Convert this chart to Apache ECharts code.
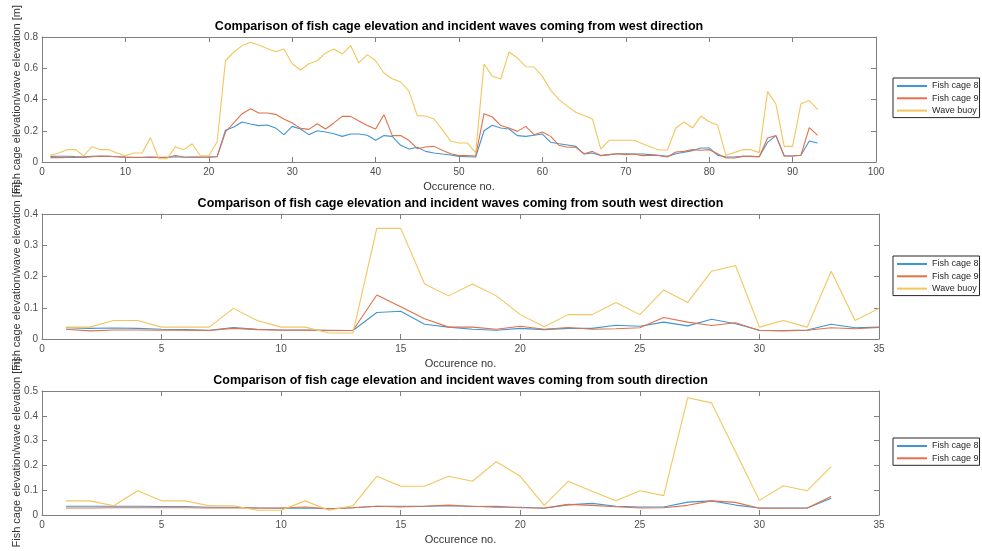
<!DOCTYPE html>
<html>
<head>
<meta charset="utf-8">
<script src="https://cdn.jsdelivr.net/npm/echarts@6.0.0/dist/echarts.min.js"></script>
<style>
  html, body { margin: 0; padding: 0; background: #fff; }
  #chart { width: 982px; height: 551px; }
</style>
</head>
<body>
<div id="chart"></div>
<script>
// ---- West direction (93 occurrences) ----
const westCage8 = [0.036,0.037,0.037,0.035,0.034,0.036,0.037,0.036,0.034,0.031,0.030,0.030,0.031,0.030,0.030,0.034,0.030,0.031,0.031,0.032,0.035,
  0.203,0.224,0.256,0.243,0.233,0.237,0.218,0.175,0.228,0.211,0.175,0.200,0.192,0.181,0.164,0.179,0.179,0.171,0.139,0.169,0.164,0.107,0.083,0.094,0.068,0.058,0.051,0.045,0.036,0.034,0.032,
  0.200,0.235,0.218,0.211,0.169,0.164,0.171,0.179,0.126,0.117,0.109,0.100,0.051,0.058,0.041,0.047,0.053,0.053,0.051,0.051,0.047,0.043,0.036,0.053,0.062,0.073,0.090,0.090,0.043,0.032,0.032,0.036,0.036,0.034,
  0.126,0.169,0.038,0.038,0.043,0.134,0.122];
const westCage9 = [0.028,0.028,0.029,0.029,0.029,0.034,0.038,0.037,0.034,0.031,0.029,0.029,0.030,0.029,0.028,0.042,0.032,0.030,0.030,0.031,0.034,
  0.192,0.250,0.309,0.341,0.314,0.314,0.305,0.275,0.250,0.215,0.209,0.245,0.211,0.250,0.292,0.292,0.262,0.233,0.211,0.303,0.169,0.169,0.139,0.085,0.096,0.100,0.075,0.053,0.041,0.041,0.038,
  0.309,0.288,0.233,0.218,0.196,0.228,0.175,0.192,0.164,0.107,0.094,0.094,0.053,0.068,0.041,0.047,0.053,0.047,0.051,0.041,0.043,0.040,0.032,0.064,0.068,0.079,0.075,0.079,0.053,0.026,0.026,0.036,0.036,0.034,
  0.154,0.169,0.038,0.038,0.043,0.220,0.171];
const westBuoy = [0.043,0.058,0.079,0.079,0.040,0.098,0.079,0.079,0.058,0.040,0.058,0.058,0.156,0.021,0.021,0.098,0.079,0.117,0.040,0.040,0.130,
  0.648,0.704,0.745,0.766,0.749,0.727,0.706,0.723,0.629,0.589,0.629,0.648,0.698,0.723,0.691,0.745,0.634,0.687,0.648,0.570,0.533,0.512,0.454,0.297,0.294,0.275,0.207,0.134,0.122,0.122,0.058,
  0.627,0.550,0.531,0.704,0.666,0.610,0.608,0.548,0.459,0.399,0.356,0.318,0.297,0.275,0.083,0.139,0.139,0.139,0.139,0.117,0.096,0.077,0.077,0.218,0.256,0.218,0.294,0.258,0.237,0.043,0.060,0.079,0.079,0.060,
  0.452,0.371,0.100,0.100,0.373,0.393,0.335];

// ---- South west direction (35 occurrences) ----
const swCage8 = [0.036,0.034,0.035,0.034,0.031,0.030,0.028,0.037,0.031,0.029,0.029,0.028,0.027,0.085,0.089,0.047,0.038,0.031,0.028,0.034,0.030,0.034,0.034,0.044,0.041,0.054,0.042,0.063,0.049,0.028,0.027,0.029,0.047,0.036,0.038];
const swCage9 = [0.031,0.026,0.029,0.029,0.028,0.028,0.027,0.034,0.030,0.028,0.028,0.027,0.027,0.141,0.103,0.065,0.038,0.038,0.031,0.041,0.031,0.037,0.031,0.033,0.036,0.069,0.054,0.043,0.052,0.027,0.026,0.028,0.036,0.033,0.037];
const swBuoy  = [0.038,0.038,0.059,0.059,0.038,0.038,0.038,0.098,0.059,0.038,0.038,0.019,0.019,0.354,0.354,0.176,0.138,0.176,0.138,0.078,0.039,0.078,0.078,0.117,0.078,0.157,0.117,0.217,0.235,0.038,0.059,0.038,0.217,0.059,0.098];

// ---- South direction (33 occurrences) ----
const sCage8 = [0.035,0.035,0.035,0.035,0.034,0.034,0.031,0.031,0.028,0.027,0.028,0.025,0.029,0.035,0.035,0.035,0.037,0.035,0.031,0.031,0.027,0.041,0.047,0.035,0.032,0.032,0.052,0.057,0.040,0.028,0.028,0.028,0.068];
const sCage9 = [0.028,0.028,0.029,0.029,0.029,0.029,0.028,0.028,0.028,0.028,0.032,0.025,0.029,0.035,0.032,0.035,0.040,0.034,0.035,0.029,0.028,0.043,0.039,0.033,0.028,0.029,0.039,0.057,0.051,0.027,0.027,0.028,0.075];
const sBuoy  = [0.057,0.057,0.037,0.098,0.057,0.057,0.037,0.037,0.019,0.019,0.057,0.019,0.037,0.156,0.116,0.116,0.156,0.136,0.215,0.156,0.039,0.136,0.096,0.057,0.098,0.078,0.473,0.452,0.255,0.059,0.118,0.098,0.195];

const panelTitles = [
  'Comparison of fish cage elevation and incident waves coming from west direction',
  'Comparison of fish cage elevation and incident waves coming from south west direction',
  'Comparison of fish cage elevation and incident waves coming from south direction'
];
const xLabel = 'Occurence no.';
const yLabel = 'Fish cage elevation/wave elevation [m]';
const seriesNames = ['Fish cage 8', 'Fish cage 9', 'Wave buoy'];

const FONT = '"Liberation Sans", Arial, Helvetica, sans-serif';
const COLORS = ['#4096d4', '#e2714a', '#f2c65c'];
const AXIS = '#808080';

const panels = [
  { series: [westCage8, westCage9, westBuoy], xMax: 100, xStep: 10, yMax: 0.8, yStep: 0.2,
    grid: { left: 42, top: 37, width: 834, height: 125 }, titleTop: 20, legendTop: 78, legendNames: seriesNames },
  { series: [swCage8, swCage9, swBuoy], xMax: 35, xStep: 5, yMax: 0.4, yStep: 0.1,
    grid: { left: 42, top: 214, width: 837, height: 125 }, titleTop: 197, legendTop: 256, legendNames: seriesNames },
  { series: [sCage8, sCage9, sBuoy], xMax: 35, xStep: 5, yMax: 0.5, yStep: 0.1,
    grid: { left: 42, top: 391, width: 837, height: 124 }, titleTop: 374, legendTop: 438, legendNames: seriesNames.slice(0, 2) }
];

const toPairs = arr => arr.map((v, i) => [i + 1, v]);

const option = {
  animation: false,
  backgroundColor: '#ffffff',
  textStyle: { fontFamily: FONT },
  title: [], grid: [], xAxis: [], yAxis: [], legend: [], series: []
};

const tickStyle = { show: true, inside: true, length: 5, lineStyle: { color: AXIS, width: 1 } };
const lineStyle = { show: true, onZero: false, lineStyle: { color: AXIS, width: 1 } };

panels.forEach((p, i) => {
  option.title.push({
    text: panelTitles[i],
    left: p.grid.left + p.grid.width / 2,
    textAlign: 'center',
    top: p.titleTop,
    padding: 0,
    textStyle: { fontFamily: FONT, fontSize: 12.5, fontWeight: 'bold', color: '#000' }
  });
  option.grid.push(Object.assign({ containLabel: false, outerBoundsMode: 'none' }, p.grid));

  // bottom and top x axes
  option.xAxis.push({
    gridIndex: i, type: 'value', position: 'bottom', min: 0, max: p.xMax, interval: p.xStep,
    axisLine: lineStyle, axisTick: tickStyle, splitLine: { show: false },
    axisLabel: { fontFamily: FONT, fontSize: 10, color: '#4d4d4d', margin: 5 },
    name: xLabel, nameLocation: 'middle', nameGap: 19,
    nameTextStyle: { fontFamily: FONT, fontSize: 11, color: '#333' }
  });
  option.xAxis.push({
    gridIndex: i, type: 'value', position: 'top', min: 0, max: p.xMax, interval: p.xStep,
    axisLine: lineStyle, axisTick: tickStyle, splitLine: { show: false }, axisLabel: { show: false }
  });

  // left and right y axes
  option.yAxis.push({
    gridIndex: i, type: 'value', position: 'left', min: 0, max: p.yMax, interval: p.yStep,
    axisLine: lineStyle, axisTick: tickStyle, splitLine: { show: false },
    axisLabel: { fontFamily: FONT, fontSize: 10, color: '#4d4d4d', margin: 4 },
    name: yLabel, nameLocation: 'middle', nameGap: 20, nameMoveOverlap: false,
    nameTextStyle: { fontFamily: FONT, fontSize: 11, color: '#333' }
  });
  option.yAxis.push({
    gridIndex: i, type: 'value', position: 'right', min: 0, max: p.yMax, interval: p.yStep,
    axisLine: lineStyle, axisTick: tickStyle, splitLine: { show: false }, axisLabel: { show: false }
  });

  p.series.forEach((vals, k) => {
    option.series.push({
      type: 'line', name: seriesNames[k],
      xAxisIndex: 2 * i, yAxisIndex: 2 * i,
      data: toPairs(vals),
      symbol: 'none', showSymbol: false,
      lineStyle: { color: COLORS[k], width: 1.1 },
      itemStyle: { color: COLORS[k] },
      silent: true
    });
  });

  option.legend.push({
    orient: 'vertical', left: 893, top: p.legendTop,
    data: p.legendNames,
    itemWidth: 30, itemHeight: 12, itemGap: 0.3,
    padding: [2, 1, 1, 3],
    itemStyle: { opacity: 0 },
    borderColor: '#262626', borderWidth: 1, backgroundColor: '#fff',
    textStyle: { fontFamily: FONT, fontSize: 9, color: '#262626', lineHeight: 12 },
    selectedMode: false
  });
});

const chart = echarts.init(document.getElementById('chart'), null, { renderer: 'canvas' });
chart.setOption(option);
</script>
</body>
</html>
